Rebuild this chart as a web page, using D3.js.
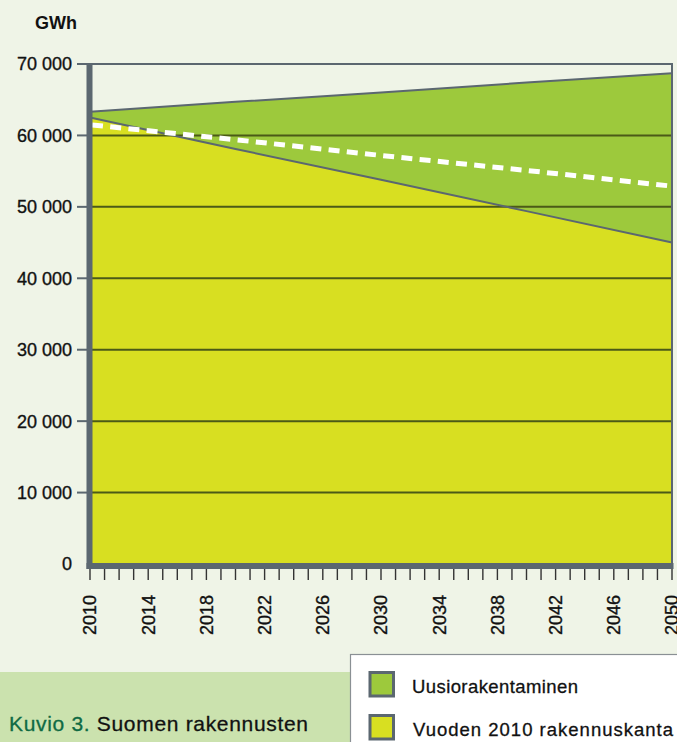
<!DOCTYPE html>
<html>
<head>
<meta charset="utf-8">
<script src="https://cdn.jsdelivr.net/npm/d3@7"></script>
<style>
  html, body { margin: 0; padding: 0; background: #eff4e7; }
  svg { display: block; }
  text { font-family: "Liberation Sans", Arial, Helvetica, sans-serif; }
</style>
</head>
<body>
<svg id="chart" width="677" height="742"></svg>
<script>
// ---- data ----
const years = [2010, 2020, 2030, 2040, 2050];
const existingStock = [62500, 58100, 53800, 49400, 45000];   // Vuoden 2010 rakennuskanta
const newConstruction = [800, 6600, 12200, 18000, 23700];    // Uusiorakentaminen (stacked on top)
const dashedLine = [61500, 59400, 57200, 55100, 52900];      // white dashed line
const yTicks = [0, 10000, 20000, 30000, 40000, 50000, 60000, 70000];
const xLabelYears = [2010, 2014, 2018, 2022, 2026, 2030, 2034, 2038, 2042, 2046, 2050];
const seriesNames = ["Uusiorakentaminen", "Vuoden 2010 rakennuskanta"];
const unitLabel = "GWh";
const captionLead = "Kuvio 3.";
const captionText = " Suomen rakennusten";

const COL = {
  bg: "#eff4e7", band: "#cbe2ae", yellow: "#d8df21", green: "#9dc93c",
  gray: "#5b6770", grid: "#4b5a17", caption: "#0f6a44"
};

const svg = d3.select("#chart");
const x = d3.scaleLinear().domain([2010, 2050]).range([90, 672]);
const y = d3.scaleLinear().domain([0, 70000]).range([564, 64]);

const table = years.map((yr, i) => ({ year: yr, existing: existingStock[i], fresh: newConstruction[i], dash: dashedLine[i] }));
const stack = d3.stack().keys(["existing", "fresh"])(table);

const area = d3.area().x(d => x(d.data.year)).y0(d => y(d[0])).y1(d => y(d[1]));

// stacked areas
svg.append("path").attr("d", area(stack[0])).attr("fill", COL.yellow);
svg.append("path").attr("d", area(stack[1])).attr("fill", COL.green);

// gridlines (10 000 .. 60 000)
svg.append("g").selectAll("line").data(yTicks.filter(v => v > 0 && v < 70000)).join("line")
  .attr("x1", x(2010)).attr("x2", x(2050))
  .attr("y1", d => y(d)).attr("y2", d => y(d))
  .attr("stroke", COL.grid).attr("stroke-width", 2);

// boundary lines
svg.append("path")
  .attr("d", d3.line().x(d => x(d.data.year)).y(d => y(d[1]))(stack[0]))
  .attr("fill", "none").attr("stroke", COL.gray).attr("stroke-width", 2);
svg.append("path")
  .attr("d", d3.line().x(d => x(d.data.year)).y(d => y(d[1]))(stack[1]))
  .attr("fill", "none").attr("stroke", COL.gray).attr("stroke-width", 2);

// dashed white line
svg.append("path")
  .attr("d", d3.line().x(d => x(d.year)).y(d => y(d.dash))(table))
  .attr("fill", "none").attr("stroke", "#ffffff").attr("stroke-width", 5)
  .attr("stroke-dasharray", "11 7.3").attr("stroke-dashoffset", -2);

// top frame line and right border
svg.append("line").attr("x1", 77).attr("x2", x(2050) + 1)
  .attr("y1", y(70000)).attr("y2", y(70000))
  .attr("stroke", COL.gray).attr("stroke-width", 2);
svg.append("line").attr("x1", x(2050)).attr("x2", x(2050))
  .attr("y1", y(70000)).attr("y2", y(0))
  .attr("stroke", COL.gray).attr("stroke-width", 2);

// y axis ticks + labels
const yg = svg.append("g");
yg.selectAll("line").data(yTicks.filter(v => v > 0)).join("line")
  .attr("x1", 77).attr("x2", 88).attr("y1", d => y(d)).attr("y2", d => y(d))
  .attr("stroke", COL.gray).attr("stroke-width", 2);
yg.selectAll("text").data(yTicks).join("text")
  .attr("x", 72).attr("y", d => y(d)).attr("dy", "0.36em")
  .attr("text-anchor", "end").attr("font-size", 18).attr("fill", "#111")
  .attr("stroke", "#111").attr("stroke-width", 0.35)
  .text(d => d === 0 ? "0" : d3.format(",")(d).replace(/,/g, " "));

// thick axis bars
svg.append("rect").attr("x", 86.5).attr("y", y(70000)).attr("width", 6).attr("height", 569 - y(70000)).attr("fill", COL.gray);
svg.append("rect").attr("x", 86.5).attr("y", 563).attr("width", x(2050) + 1.5 - 86.5).attr("height", 6).attr("fill", COL.gray);

// x minor ticks every year
const allYears = d3.range(2010, 2051);
svg.append("g").selectAll("line").data(allYears).join("line")
  .attr("x1", d => x(d)).attr("x2", d => x(d)).attr("y1", 569).attr("y2", 580)
  .attr("stroke", "#333").attr("stroke-width", 1.4);

// x labels rotated
svg.append("g").selectAll("text").data(xLabelYears).join("text")
  .attr("transform", d => `translate(${x(d)},595) rotate(-90)`)
  .attr("dy", "0.36em").attr("text-anchor", "end")
  .attr("font-size", 18).attr("fill", "#111")
  .attr("stroke", "#111").attr("stroke-width", 0.35)
  .text(d => d);

// unit label
svg.append("text").attr("x", 35).attr("y", 29).attr("font-size", 18).attr("font-weight", "bold")
  .attr("fill", "#111").text(unitLabel);

// caption band
svg.append("rect").attr("x", 0).attr("y", 672).attr("width", 351).attr("height", 70).attr("fill", COL.band);
const cap = svg.append("text").attr("x", 9).attr("y", 731).attr("font-size", 21)
  .attr("textLength", 299).attr("lengthAdjust", "spacing");
cap.append("tspan").attr("fill", COL.caption).attr("stroke", COL.caption).attr("stroke-width", 0.3).text(captionLead);
cap.append("tspan").attr("fill", "#111").attr("stroke", "#111").attr("stroke-width", 0.3).text(captionText);

// legend box
svg.append("rect").attr("x", 350.5).attr("y", 654.5).attr("width", 340).attr("height", 100)
  .attr("fill", "#ffffff").attr("stroke", "#8a9094").attr("stroke-width", 1.2);
const legendColors = [COL.green, COL.yellow];
const legendY = [671, 714];
const legendTextLen = [166, 260];
const lg = svg.append("g");
seriesNames.forEach((name, i) => {
  lg.append("rect").attr("x", 370).attr("y", legendY[i] + 1.5).attr("width", 23.5).attr("height", 23.5)
    .attr("fill", legendColors[i]).attr("stroke", COL.gray).attr("stroke-width", 3);
  lg.append("text").attr("x", 412 + i).attr("y", legendY[i] + 22).attr("font-size", 18.5)
    .attr("fill", "#111").attr("stroke", "#111").attr("stroke-width", 0.3)
    .attr("textLength", legendTextLen[i]).attr("lengthAdjust", "spacing")
    .text(name);
});
</script>
</body>
</html>
